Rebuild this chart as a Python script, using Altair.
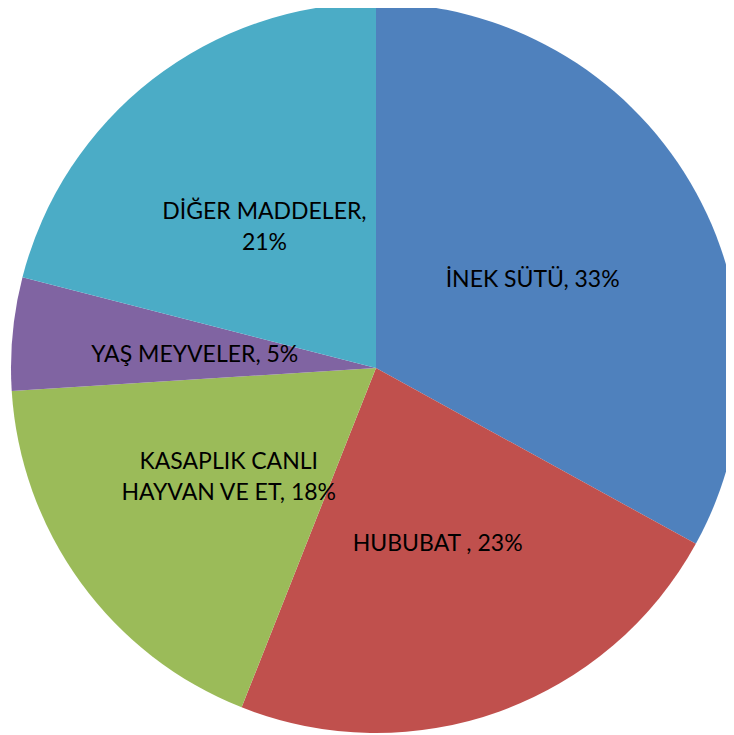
import altair as alt
import pandas as pd

categories = ["İNEK SÜTÜ", "HUBUBAT", "KASAPLIK CANLI HAYVAN VE ET", "YAŞ MEYVELER", "DİĞER MADDELER"]
values = [33, 23, 18, 5, 21]
label_lines = [
    ["İNEK SÜTÜ, 33%"],
    ["HUBUBAT , 23%"],
    ["KASAPLIK CANLI", "HAYVAN VE ET, 18%"],
    ["YAŞ MEYVELER, 5%"],
    ["DİĞER MADDELER,", "21%"],
]
colors = ["#4F81BD", "#C0504D", "#9BBB59", "#8064A2", "#4BACC6"]

df = pd.DataFrame({
    "category": categories,
    "value": values,
    "label": label_lines,
    "order": list(range(len(categories))),
})

base = alt.Chart(df).encode(
    theta=alt.Theta("value:Q", stack=True),
    order=alt.Order("order:Q"),
    x=alt.value(368),
    y=alt.value(360),
)

arcs = base.mark_arc(radius=365, strokeWidth=0).encode(
    color=alt.Color("category:N", scale=alt.Scale(domain=categories, range=colors), legend=None)
)

text_style = dict(radius=182, font="Lato", fontSize=23, lineHeight=31, color="black",
                  align="center", baseline="middle")

labels_one = base.transform_calculate(n="length(datum.label)").mark_text(dy=4.5, **text_style).encode(
    text="label:N",
    opacity=alt.condition("datum.n == 1", alt.value(1), alt.value(0)),
)
labels_two = base.transform_calculate(n="length(datum.label)").mark_text(dy=-12.5, **text_style).encode(
    text="label:N",
    opacity=alt.condition("datum.n == 2", alt.value(1), alt.value(0)),
)

chart = (arcs + labels_one + labels_two).properties(
    width=718, height=727, padding=0, autosize=alt.AutoSizeParams(type="none")
).configure_view(stroke=None)

chart.save("out.html", embed_options={"renderer": "svg", "actions": False})
